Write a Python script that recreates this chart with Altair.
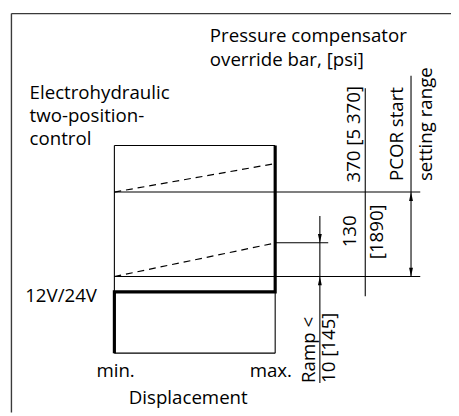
import altair as alt
import pandas as pd

# Diagram grid: units equal page pixels (x from left, y from top)
# Thin solid segments of the schematic
thin_x1 = [116.3, 280.0, 116.3, 116.3, 116.3, 116.3, 280.0, 325.5, 371.7, 418.3]
thin_y1 = [144.3, 293.3, 144.3, 355.7, 191.7, 277.7, 243.3, 216.0, 86.0, 73.3]
thin_x2 = [116.3, 280.0, 280.0, 280.0, 427.7, 427.7, 334.0, 325.5, 371.7, 418.3]
thin_y2 = [355.7, 355.7, 144.3, 355.7, 191.7, 277.7, 243.3, 386.0, 297.7, 278.0]

# Dashed ramp lines
dash_x1 = [116.3, 116.3]
dash_y1 = [191.7, 277.7]
dash_x2 = [280.0, 280.0]
dash_y2 = [162.7, 243.6]

# Thick characteristic (two-position control)
thick_x = [116.3, 116.3, 280.0, 280.0]
thick_y = [355.7, 293.3, 293.3, 144.3]

# Frame (left and top edges)
frame_x1 = [11.5, 11.5]
frame_y1 = [10.0, 10.0]
frame_x2 = [11.5, 459.0]
frame_y2 = [416.0, 10.0]

# Arrowheads (tip positions)
arrow_up_x = [325.5, 418.3]
arrow_up_y = [277.7, 191.7]
arrow_down_x = [325.5, 418.3]
arrow_down_y = [243.3, 277.7]

# Horizontal labels
h_text = ["Pressure compensator", "override bar, [psi]", "Electrohydraulic",
          "two-position-", "control", "12V/24V", "min.", "max.", "Displacement"]
h_x = [213.5, 213.5, 30.0, 30.0, 30.0, 25.5, 98.0, 254.0, 131.0]
h_y = [39.0, 63.5, 96.5, 120.5, 144.0, 303.5, 380.0, 380.0, 407.5]

# Vertical labels (reading upward), x = baseline, y = start
v_text = ["370 [5 370]", "PCOR start", "setting range", "130", "[1890]",
          "Ramp <", "10 [145]"]
v_x = [366.5, 410.5, 440.0, 362.0, 389.5, 321.0, 340.5]
v_y = [182.0, 180.5, 180.5, 248.0, 260.0, 386.0, 386.0]

FONT = "Open Sans"
FS = 19

xs = alt.Scale(domain=[8, 459], nice=False, zero=False)
ys = alt.Scale(domain=[8, 416], nice=False, zero=False, reverse=True)


def seg_layer(x1, y1, x2, y2, **mk):
    df = pd.DataFrame({"x": x1, "y": y1, "x2": x2, "y2": y2})
    return alt.Chart(df).mark_rule(**mk).encode(
        x=alt.X("x:Q", scale=xs, axis=None),
        y=alt.Y("y:Q", scale=ys, axis=None),
        x2="x2:Q",
        y2="y2:Q",
    )


frame = seg_layer(frame_x1, frame_y1, frame_x2, frame_y2, color="#3a3a3a", strokeWidth=1.4)
thin = seg_layer(thin_x1, thin_y1, thin_x2, thin_y2, color="#000000", strokeWidth=1.1)
dashed = seg_layer(dash_x1, dash_y1, dash_x2, dash_y2, color="#000000", strokeWidth=1.2,
                   strokeDash=[7, 5])

thick_df = pd.DataFrame({"x": thick_x, "y": thick_y, "i": list(range(len(thick_x)))})
thick = alt.Chart(thick_df).mark_line(color="#000000", strokeWidth=3.2, strokeJoin="miter").encode(
    x=alt.X("x:Q", scale=xs, axis=None),
    y=alt.Y("y:Q", scale=ys, axis=None),
    order="i:Q",
)

up = alt.Chart(pd.DataFrame({"x": arrow_up_x, "y": arrow_up_y})).mark_point(
    shape="M0,0L-0.22,1L0.22,1Z", filled=True, size=324, color="#000000", opacity=1
).encode(x=alt.X("x:Q", scale=xs, axis=None), y=alt.Y("y:Q", scale=ys, axis=None))

down = alt.Chart(pd.DataFrame({"x": arrow_down_x, "y": arrow_down_y})).mark_point(
    shape="M0,0L-0.22,-1L0.22,-1Z", filled=True, size=324, color="#000000", opacity=1
).encode(x=alt.X("x:Q", scale=xs, axis=None), y=alt.Y("y:Q", scale=ys, axis=None))

htext = alt.Chart(pd.DataFrame({"t": h_text, "x": h_x, "y": h_y})).mark_text(
    align="left", baseline="alphabetic", font=FONT, fontSize=FS, color="#000000"
).encode(x=alt.X("x:Q", scale=xs, axis=None), y=alt.Y("y:Q", scale=ys, axis=None), text="t:N")

vtext = alt.Chart(pd.DataFrame({"t": v_text, "x": v_x, "y": v_y})).mark_text(
    align="left", baseline="alphabetic", angle=270, font=FONT, fontSize=FS, color="#000000"
).encode(x=alt.X("x:Q", scale=xs, axis=None), y=alt.Y("y:Q", scale=ys, axis=None), text="t:N")

chart = alt.layer(frame, thin, dashed, thick, up, down, htext, vtext).properties(
    width=451, height=408, padding=0, autosize=alt.AutoSizeParams(type="none"),
    background="white",
).configure_view(stroke=None)

chart.save("out.html", embed_options={"renderer": "svg", "actions": False})
